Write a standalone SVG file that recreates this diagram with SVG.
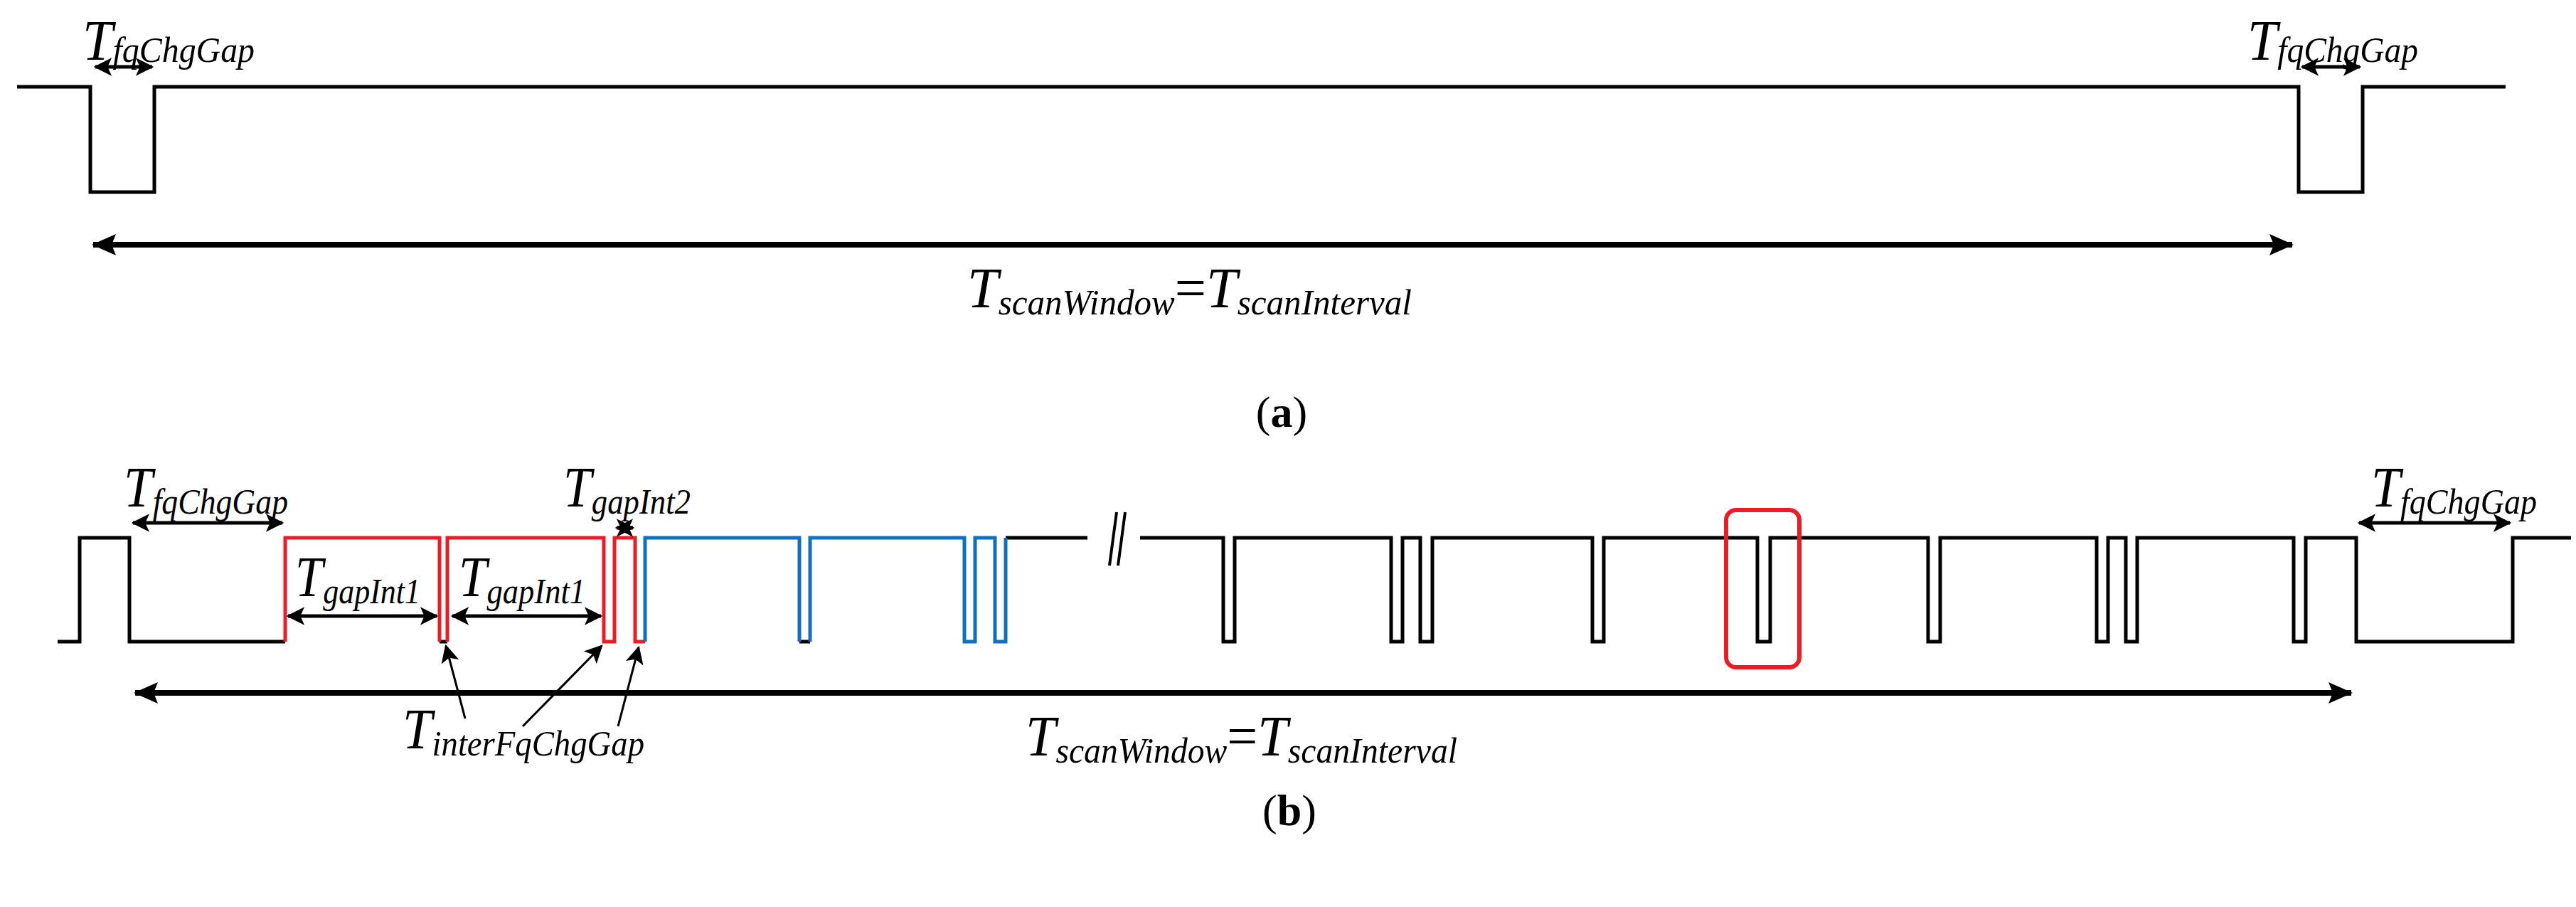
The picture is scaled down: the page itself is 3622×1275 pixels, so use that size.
<svg xmlns="http://www.w3.org/2000/svg" width="3622" height="1275" viewBox="0 0 3622 1275">
<style>
.w{fill:none;stroke:#000;stroke-width:5}
.r{fill:none;stroke:#ED1C24;stroke-width:5}
.b{fill:none;stroke:#1070C0;stroke-width:5}
.m{font-family:"Liberation Serif",serif;font-style:italic;font-size:80px;fill:#000}
.s{font-size:50px}
.cap{font-family:"Liberation Serif",serif;font-size:62px;fill:#000}
.big{stroke:#000;stroke-width:8;fill:none}
.sm{stroke:#000;stroke-width:5;fill:none}
.pt{stroke:#000;stroke-width:3;fill:none}
</style>
<defs>
<marker id="ah" markerUnits="userSpaceOnUse" markerWidth="40" markerHeight="40" viewBox="-34 -16 40 32" refX="0" refY="0" orient="auto-start-reverse"><path d="M-32,-15 L2,0 L-32,15 L-26,0 Z" fill="#000"/></marker>
<marker id="as" markerUnits="userSpaceOnUse" markerWidth="30" markerHeight="30" viewBox="-22 -12 26 24" refX="0" refY="0" orient="auto-start-reverse"><path d="M-20,-11 L2,0 L-20,11 L-15,0 Z" fill="#000"/></marker>
</defs>
<g id="panel-a">
<path class="w" d="M24,122 H127 V270 H217 V122 H3232 V270 H3322 V122 H3523"/>
</g>
<g id="panel-b-wave">
<path class="w" d="M81,902 H112 V756 H182 V902 H401 M618,902 H629 M1124,902 H1139 M1414,756 H1529 M1603,756 H1720 V902 H1736 V756 H1956 V902 H1972 V756 H1997 V902 H2014 V756 H2239 V902 H2255 V756 H2471 V902 H2489 V756 H2711 V902 H2728 V756 H2948 V902 H2964 V756 H2989 V902 H3005 V756 H3225 V902 H3242 V756 H3313 V902 H3533 V756 H3615"/>
<path class="r" d="M401,902 V756 H618 V902 M629,902 V756 H849 V902 H864 V756 H893 V902 H907"/>
<path class="b" d="M907,902 V756 H1124 V902 M1139,902 V756 H1356 V902 H1371 V756 H1399 V902 H1414 V756"/>
<path d="M1560,795 L1570,720 M1572,795 L1582,720" stroke="#000" stroke-width="4"/>
<rect id="highlight" x="2427" y="717" width="103" height="221" rx="14" fill="none" stroke="#ED1C24" stroke-width="6"/>
</g>
<g id="connectors">
<line class="big" x1="131" y1="344" x2="3223" y2="344" marker-start="url(#ah)" marker-end="url(#ah)"/>
<line class="sm" x1="134" y1="94" x2="214" y2="94" marker-start="url(#as)" marker-end="url(#as)"/>
<line class="sm" x1="3237" y1="94" x2="3318" y2="94" marker-start="url(#as)" marker-end="url(#as)"/>
<line class="big" x1="190" y1="974" x2="3306" y2="974" marker-start="url(#ah)" marker-end="url(#ah)"/>
<line class="sm" x1="187" y1="735" x2="397" y2="735" marker-start="url(#as)" marker-end="url(#as)"/>
<line class="sm" x1="3317" y1="735" x2="3529" y2="735" marker-start="url(#as)" marker-end="url(#as)"/>
<line class="sm" x1="405" y1="866" x2="614" y2="866" marker-start="url(#as)" marker-end="url(#as)"/>
<line class="sm" x1="636" y1="866" x2="845" y2="866" marker-start="url(#as)" marker-end="url(#as)"/>
<line class="sm" x1="867" y1="742" x2="890" y2="742" marker-start="url(#as)" marker-end="url(#as)"/>
<line class="pt" x1="654" y1="1010" x2="627" y2="908" marker-end="url(#as)"/>
<line class="pt" x1="735" y1="1021" x2="846" y2="908" marker-end="url(#as)"/>
<line class="pt" x1="869" y1="1021" x2="898" y2="910" marker-end="url(#as)"/>
</g>
<g id="labels">
<text class="m" x="116" y="84" textLength="242" lengthAdjust="spacingAndGlyphs">T<tspan class="s" dy="3">fqChgGap</tspan></text>
<text class="m" x="3160" y="84" textLength="240" lengthAdjust="spacingAndGlyphs">T<tspan class="s" dy="3">fqChgGap</tspan></text>
<text class="m" x="1360" y="432" textLength="625" lengthAdjust="spacingAndGlyphs">T<tspan class="s" dy="10">scanWindow</tspan><tspan dy="-10" font-style="normal">=</tspan>T<tspan class="s" dy="10">scanInterval</tspan></text>
<text class="cap" x="1802" y="600" text-anchor="middle">(<tspan font-weight="bold">a</tspan>)</text>
<text class="m" x="174" y="712" textLength="231" lengthAdjust="spacingAndGlyphs">T<tspan class="s" dy="10">fqChgGap</tspan></text>
<text class="m" x="3334" y="712" textLength="233" lengthAdjust="spacingAndGlyphs">T<tspan class="s" dy="10">fqChgGap</tspan></text>
<text class="m" x="792" y="712" textLength="179" lengthAdjust="spacingAndGlyphs">T<tspan class="s" dy="10">gapInt2</tspan></text>
<text class="m" x="415" y="838" textLength="176" lengthAdjust="spacingAndGlyphs">T<tspan class="s" dy="10">gapInt1</tspan></text>
<text class="m" x="645" y="838" textLength="178" lengthAdjust="spacingAndGlyphs">T<tspan class="s" dy="10">gapInt1</tspan></text>
<text class="m" x="566" y="1052" textLength="340" lengthAdjust="spacingAndGlyphs">T<tspan class="s" dy="10">interFqChgGap</tspan></text>
<text class="m" x="1442" y="1062" textLength="607" lengthAdjust="spacingAndGlyphs">T<tspan class="s" dy="10">scanWindow</tspan><tspan dy="-10" font-style="normal">=</tspan>T<tspan class="s" dy="10">scanInterval</tspan></text>
<text class="cap" x="1813" y="1160" text-anchor="middle">(<tspan font-weight="bold">b</tspan>)</text>
</g>
</svg>
